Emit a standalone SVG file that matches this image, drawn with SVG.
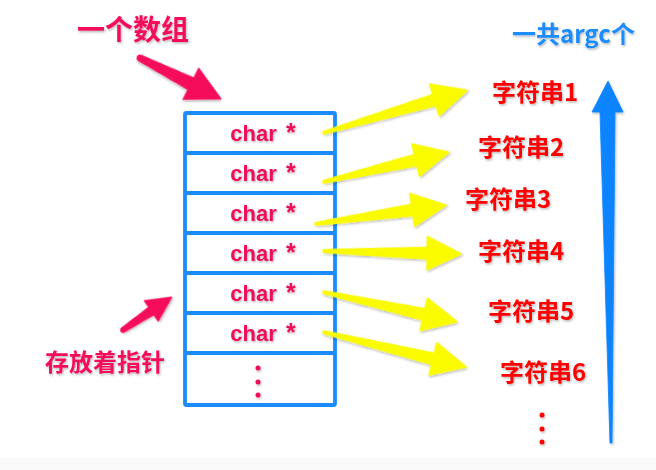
<svg xmlns="http://www.w3.org/2000/svg" width="656" height="470" viewBox="0 0 656 470">
<defs>
<filter id="sh" x="-20%" y="-20%" width="140%" height="140%">
<feDropShadow dx="1" dy="1.5" stdDeviation="1" flood-color="#000" flood-opacity="0.28"/>
</filter>
</defs>
<style>
.cjk{font-family:"Noto Sans CJK SC","Noto Sans",sans-serif;font-weight:bold;}
.str{fill:#ff0000;font-size:24px;filter:url(#sh);}
.pink{fill:#f5105c;}
.cell{font-family:"Liberation Sans",Arial,sans-serif;font-weight:bold;font-size:22px;fill:#ee0a58;text-anchor:middle;filter:url(#sh);}
.ast{font-size:25px;}
.yel{fill:#fbfb00;stroke:#fbfb00;stroke-width:1;stroke-linejoin:round;filter:url(#sh);}
.pk{fill:#f5105c;stroke:#f5105c;stroke-width:1;stroke-linejoin:round;filter:url(#sh);}
.box{fill:#fff;stroke:#1a8cff;stroke-width:3.8;}
.div{stroke:#1a8cff;stroke-width:3.8;}
</style>
<rect width="656" height="470" fill="#fff"/>
<rect y="458" width="656" height="12" fill="#f9f9f9"/>

<g id="array">
<rect class="box" x="185" y="113" width="150" height="292" rx="1.5"/>
<line class="div" x1="185" y1="153" x2="335" y2="153"/>
<line class="div" x1="185" y1="193" x2="335" y2="193"/>
<line class="div" x1="185" y1="233" x2="335" y2="233"/>
<line class="div" x1="185" y1="273" x2="335" y2="273"/>
<line class="div" x1="185" y1="313" x2="335" y2="313"/>
<line class="div" x1="185" y1="353" x2="335" y2="353"/>
<text class="cell" x="263" y="141" word-spacing="3">char <tspan class="ast">*</tspan></text>
<text class="cell" x="263" y="181" word-spacing="3">char <tspan class="ast">*</tspan></text>
<text class="cell" x="263" y="221" word-spacing="3">char <tspan class="ast">*</tspan></text>
<text class="cell" x="263" y="261" word-spacing="3">char <tspan class="ast">*</tspan></text>
<text class="cell" x="263" y="301" word-spacing="3">char <tspan class="ast">*</tspan></text>
<text class="cell" x="263" y="341" word-spacing="3">char <tspan class="ast">*</tspan></text>
<g fill="#ee0a58" filter="url(#sh)">
<circle cx="258" cy="368" r="2.5"/>
<circle cx="258" cy="382" r="2.5"/>
<circle cx="258" cy="395" r="2.5"/>
</g>
</g>

<g id="label-array"><text class="cjk pink" x="77" y="40" font-size="28" filter="url(#sh)">一个数组</text></g>
<g id="label-pointers"><text class="cjk pink" x="45" y="371" font-size="24" filter="url(#sh)">存放着指针</text></g>
<g id="label-count"><text class="cjk" x="512" y="43" font-size="24" fill="#1a8cff" filter="url(#sh)">一共argc个</text></g>

<g id="str1"><text class="cjk str" x="492" y="101">字符串1</text></g>
<g id="str2"><text class="cjk str" x="478" y="156">字符串2</text></g>
<g id="str3"><text class="cjk str" x="465" y="208">字符串3</text></g>
<g id="str4"><text class="cjk str" x="478" y="260">字符串4</text></g>
<g id="str5"><text class="cjk str" x="488" y="320">字符串5</text></g>
<g id="str6"><text class="cjk str" x="500" y="381">字符串6</text></g>
<g id="str-more" fill="#ff0000" filter="url(#sh)">
<circle cx="542" cy="415" r="2.5"/>
<circle cx="542" cy="429" r="2.5"/>
<circle cx="542" cy="442" r="2.5"/>
</g>

<g id="connectors">
<polygon class="yel" transform="translate(323,133) rotate(-16.5)" points="0,-1.5 116,-6 116,-17 151,0 116,17 116,6 0,1.5"/>
<polygon class="yel" transform="translate(323,182) rotate(-13.3)" points="0,-1.5 95,-6 95,-17 130,0 95,17 95,6 0,1.5"/>
<polygon class="yel" transform="translate(315,224) rotate(-8.2)" points="0,-1.5 98,-6 98,-17 133,0 98,17 98,6 0,1.5"/>
<polygon class="yel" transform="translate(323,251) rotate(1.2)" points="0,-1.5 104,-6 104,-17 139,0 104,17 104,6 0,1.5"/>
<polygon class="yel" transform="translate(323,292) rotate(12.5)" points="0,-1.5 103,-6 103,-17 138,0 103,17 103,6 0,1.5"/>
<polygon class="yel" transform="translate(323,332) rotate(13.7)" points="0,-1.5 113,-6 113,-17 148,0 113,17 113,6 0,1.5"/>
<g class="pk" transform="translate(140,58) rotate(26.8)">
<circle cx="0" cy="0" r="3"/>
<polygon points="0,-3 57,-6.5 57,-17.5 91,0 57,17.5 57,6.5 0,3"/>
</g>
<g class="pk" transform="translate(123,330) rotate(-34)">
<circle cx="0" cy="0" r="2.5"/>
<polygon points="0,-2.5 34,-4.5 34,-12.5 59,0 34,12.5 34,4.5 0,2.5"/>
</g>
<polygon fill="#0a84ff" stroke="#0a84ff" stroke-width="0.8" stroke-linejoin="round" filter="url(#sh)" points="608,81 623,112 615,112 612,443 610,443 600,112 592,112"/>
</g>
</svg>
